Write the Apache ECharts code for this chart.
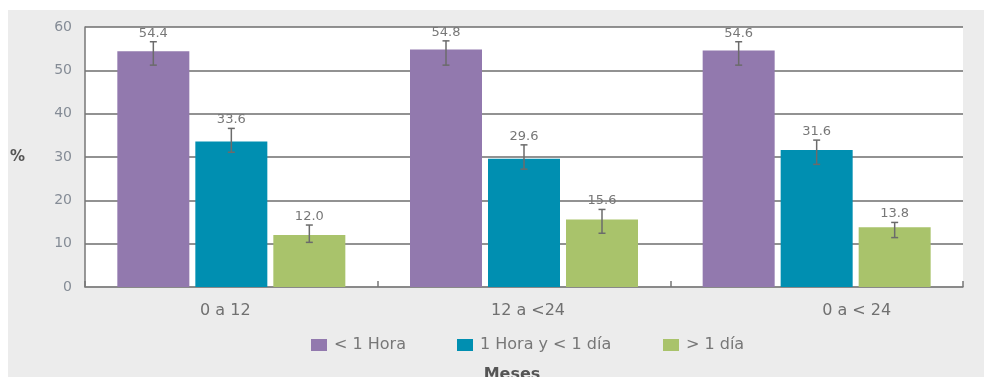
<!DOCTYPE html>
<html>
<head>
<meta charset="utf-8">
<script src="https://cdn.jsdelivr.net/npm/echarts@6/dist/echarts.min.js"></script>
<style>
  html, body { margin: 0; padding: 0; background: #fff; }
  #wrap { position: relative; width: 984px; height: 377px; overflow: hidden; }
  #panel { position: absolute; left: 8px; top: 10px; right: 0; bottom: 0; background: #ececec; }
  #chart { position: absolute; left: 0; top: 0; width: 984px; height: 377px; }
</style>
</head>
<body>
<div id="wrap"><div id="panel"></div><div id="chart"></div></div>
<script>
// Age groups (months) and time-to-care categories
const categories = ['0 a 12', '12 a <24', '0 a < 24'];
const seriesNames = ['< 1 Hora', '1 Hora y < 1 día', '> 1 día'];
const seriesColors = ['#9279ae', '#008fb1', '#a9c36b'];

// Percentages per group
const lessThanHour = [54.4, 54.8, 54.6];
const hourToDay = [33.6, 29.6, 31.6];
const moreThanDay = [12.0, 15.6, 13.8];

// Confidence intervals [low, high]
const lessThanHourCI = [[51.2, 56.6], [51.2, 56.8], [51.2, 56.6]];
const hourToDayCI = [[31.1, 36.6], [27.2, 32.8], [28.3, 33.9]];
const moreThanDayCI = [[10.3, 14.3], [12.4, 17.9], [11.4, 14.9]];

const BAR_WIDTH = 72;
const BAR_GAP = 6;
const BAR_STEP = BAR_WIDTH + BAR_GAP;
const FONT = '"DejaVu Sans", "Liberation Sans", Arial, sans-serif';
const LEGEND_LEFT = [306, 452, 658];

function barSeries(idx, values) {
  return {
    type: 'bar',
    name: seriesNames[idx],
    data: values,
    barWidth: BAR_WIDTH,
    barGap: (BAR_GAP / BAR_WIDTH * 100) + '%',
    itemStyle: { color: seriesColors[idx] },
    z: 2
  };
}

// Whiskers plus value label drawn over each bar
function errorSeries(idx, values, ci) {
  return {
    type: 'custom',
    name: seriesNames[idx],
    silent: true,
    z: 10,
    data: values.map((v, i) => [i, ci[i][0], ci[i][1], v]),
    encode: { x: 0, y: [1, 2] },
    renderItem(params, api) {
      const c = api.value(0);
      const lo = api.coord([c, api.value(1)]);
      const hi = api.coord([c, api.value(2)]);
      const x = lo[0] + (idx - 1) * BAR_STEP;
      const cap = 3.5;
      const style = { stroke: '#6b6b6b', lineWidth: 1.5 };
      return {
        type: 'group',
        children: [
          { type: 'line', shape: { x1: x, y1: hi[1], x2: x, y2: lo[1] }, style },
          { type: 'line', shape: { x1: x - cap, y1: hi[1], x2: x + cap, y2: hi[1] }, style },
          { type: 'line', shape: { x1: x - cap, y1: lo[1], x2: x + cap, y2: lo[1] }, style },
          {
            type: 'text', x: x, y: hi[1] - 2,
            style: {
              text: api.value(3).toFixed(1), x: 0, y: 0,
              align: 'center', verticalAlign: 'bottom',
              fill: '#777', font: '13px ' + FONT
            }
          }
        ]
      };
    }
  };
}

const chart = echarts.init(document.getElementById('chart'), null, { renderer: 'canvas' });
chart.setOption({
  backgroundColor: 'transparent',
  animation: false,
  textStyle: { fontFamily: FONT },
  grid: {
    left: 85, right: 21, top: 27, bottom: 90,
    outerBoundsMode: 'none',
    containLabel: false,
    show: true, backgroundColor: '#fff', borderWidth: 0
  },
  legend: seriesNames.map((name, i) => ({
    data: [name],
    left: LEGEND_LEFT[i], top: 332,
    icon: 'rect',
    itemWidth: 16, itemHeight: 12,
    textStyle: { color: '#777', fontSize: 16, fontFamily: FONT, padding: [0, 0, 0, 2] }
  })),
  xAxis: {
    type: 'category',
    data: categories,
    name: 'Meses',
    nameLocation: 'middle',
    nameGap: 80,
    nameTextStyle: { color: '#555', fontSize: 16, fontWeight: 'bold', fontFamily: FONT, padding: [0, 24, 0, 0] },
    axisLine: { lineStyle: { color: '#888', width: 1.5 } },
    axisTick: { show: true, inside: true, length: 6, lineStyle: { color: '#777', width: 1.5 } },
    axisLabel: {
      margin: 16,
      color: '#707070',
      fontSize: 16,
      formatter: (v, i) => '{c' + i + '|' + v + '}',
      rich: {
        c0: { color: '#707070', fontSize: 16, fontFamily: FONT, padding: [0, 12, 0, 0] },
        c1: { color: '#707070', fontSize: 16, fontFamily: FONT, padding: [0, 0, 0, 8] },
        c2: { color: '#707070', fontSize: 16, fontFamily: FONT, padding: [0, 0, 0, 80] }
      }
    }
  },
  yAxis: {
    type: 'value',
    min: 0, max: 60, interval: 10,
    name: '%',
    nameLocation: 'middle',
    nameRotate: 0,
    nameGap: 60,
    nameTextStyle: { color: '#555', fontSize: 15, fontWeight: 'bold', fontFamily: FONT },
    axisLine: { show: true, lineStyle: { color: '#777', width: 1.5 } },
    axisTick: { show: false },
    axisLabel: { color: '#858c96', fontSize: 14, margin: 13, fontFamily: FONT },
    splitLine: { lineStyle: { color: '#6e6e6e', width: 1.5 } }
  },
  series: [
    barSeries(0, lessThanHour),
    barSeries(1, hourToDay),
    barSeries(2, moreThanDay),
    errorSeries(0, lessThanHour, lessThanHourCI),
    errorSeries(1, hourToDay, hourToDayCI),
    errorSeries(2, moreThanDay, moreThanDayCI)
  ]
});
</script>
</body>
</html>
